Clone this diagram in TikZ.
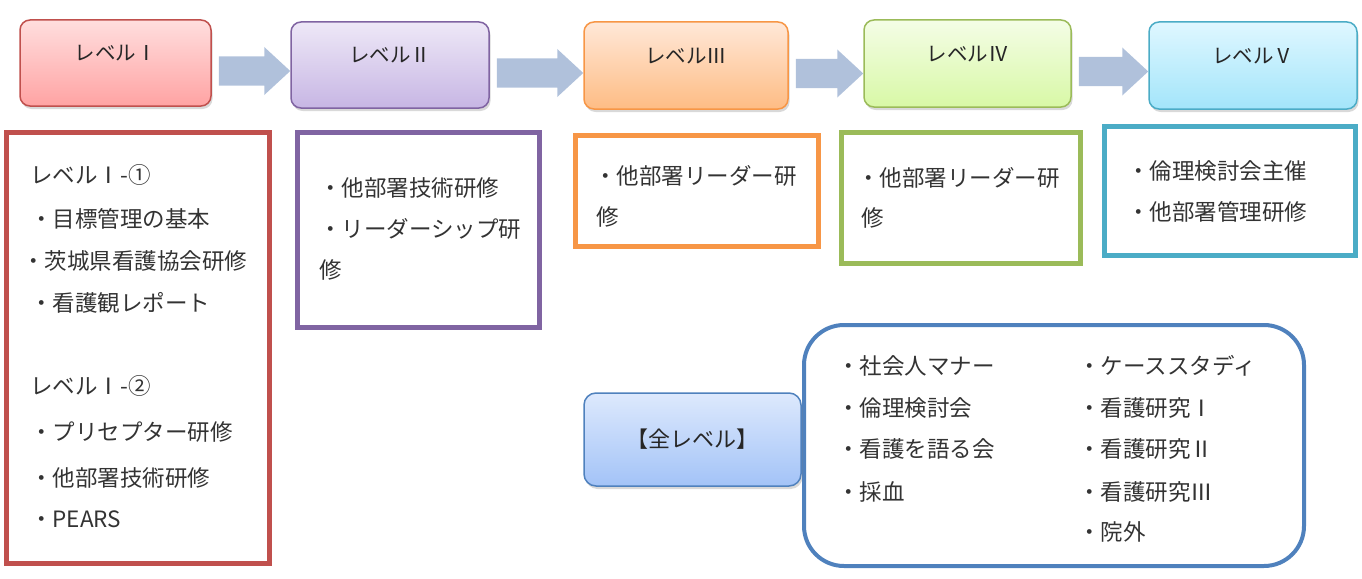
\documentclass[tikz,border=0pt]{standalone}
\usepackage{fontspec}
\setmainfont{Noto Sans CJK JP}
\usetikzlibrary{shadows,calc}

\definecolor{lvred}{HTML}{C0504D}
\definecolor{lvpurple}{HTML}{8064A2}
\definecolor{lvorange}{HTML}{F79646}
\definecolor{lvgreen}{HTML}{9BBB59}
\definecolor{lvteal}{HTML}{4BACC6}
\definecolor{lvblue}{HTML}{4F81BD}
\definecolor{arrowblue}{HTML}{B0C1DB}
% gradient ends of the level boxes
\definecolor{redtop}{HTML}{FFDEDE}    \definecolor{redbot}{HTML}{FFA3A3}
\definecolor{purpletop}{HTML}{EEE8F7} \definecolor{purplebot}{HTML}{C7B6E4}
\definecolor{orangetop}{HTML}{FFE8D8} \definecolor{orangebot}{HTML}{FEBC84}
\definecolor{greentop}{HTML}{F4FDE6}  \definecolor{greenbot}{HTML}{D8F8A6}
\definecolor{tealtop}{HTML}{DFF7FF}   \definecolor{tealbot}{HTML}{A3E5FA}
\definecolor{bluetop}{HTML}{DDE9FD}   \definecolor{bluebot}{HTML}{A3C3F7}

\begin{document}
\begin{tikzpicture}[x=1pt,y=-1pt,
    levelbox/.style={draw,line width=1.5pt,rounded corners=10pt,text=black!85,
        font=\fontsize{20.5}{24}\selectfont,text height=12pt,text depth=16pt,
        drop shadow={shadow xshift=1.5pt,shadow yshift=-3pt,opacity=.3}},
    listbox/.style={draw,line width=5pt},
    item/.style={anchor=west,inner sep=0pt,text=black!80,
        font=\fontsize{22.5}{27}\selectfont}]
    \useasboundingbox (0,0) rectangle (1362,578);

    % level boxes along the top
    \node[levelbox,draw=lvred,top color=redtop,bottom color=redbot,
          minimum width=191pt,minimum height=86pt] (lv1) at (115.5,63) {レベルⅠ};
    \node[levelbox,draw=lvpurple,top color=purpletop,bottom color=purplebot,
          minimum width=198pt,minimum height=86pt] (lv2) at (390,65) {レベルⅡ};
    \node[levelbox,draw=lvorange,top color=orangetop,bottom color=orangebot,
          minimum width=204pt,minimum height=87pt] (lv3) at (686,65.5) {レベルⅢ};
    \node[levelbox,draw=lvgreen,top color=greentop,bottom color=greenbot,
          minimum width=207pt,minimum height=87pt] (lv4) at (967.5,63.5) {レベルⅣ};
    \node[levelbox,draw=lvteal,top color=tealtop,bottom color=tealbot,
          minimum width=208pt,minimum height=87pt] (lv5) at (1253,65.5) {レベルⅤ};

    % block arrows between the levels
    \foreach \a/\b in {lv1/lv2,lv2/lv3,lv3/lv4,lv4/lv5}
        \fill[arrowblue] let \p1 = (\a.east), \p2 = (\b.west) in
            (\x1+7pt,\y1-22.5pt) -- (\x2-26pt,\y1-22.5pt) -- (\x2-26pt,\y1-32pt)
            -- (\x2,\y1-8pt) -- (\x2-26pt,\y1+16pt) -- (\x2-26pt,\y1+6.5pt)
            -- (\x1+7pt,\y1+6.5pt) -- cycle;

    % course lists under each level
    \node[listbox,draw=lvred,minimum width=263pt,minimum height=431pt] (d1) at (138,348) {};
    \foreach \t/\x/\y [count=\i] in {レベルⅠ-①/30/175, ・目標管理の基本/30/219,
            ・茨城県看護協会研修/22/261, ・看護観レポート/30/303, レベルⅠ-②/30/386,
            ・プリセプター研修/30/432, ・他部署技術研修/30/478, ・PEARS/30/519}
        \node[item] (d1t\i) at (\x,\y) {\t};

    \node[listbox,draw=lvpurple,minimum width=242pt,minimum height=195pt] (d2) at (418.5,230) {};
    \foreach \t/\y [count=\i] in {・他部署技術研修/188, ・リーダーシップ研/229, 修/270}
        \node[item] (d2t\i) at (319,\y) {\t};

    \node[listbox,draw=lvorange,minimum width=243pt,minimum height=111pt] (d3) at (697,191) {};
    \node[item] (d3t1) at (594,176) {・他部署リーダー研};
    \node[item] (d3t2) at (596,217) {修};

    \node[listbox,draw=lvgreen,minimum width=239pt,minimum height=131pt] (d4) at (961,198) {};
    \node[item] (d4t1) at (857,178) {・他部署リーダー研};
    \node[item] (d4t2) at (861,218) {修};

    \node[listbox,draw=lvteal,minimum width=251pt,minimum height=129pt] (d5) at (1230,191) {};
    \foreach \t/\y [count=\i] in {・倫理検討会主催/171, ・他部署管理研修/212}
        \node[item] (d5t\i) at (1127,\y) {\t};

    % courses for every level
    \node[draw=lvblue,line width=4pt,rounded corners=40pt,
          minimum width=500pt,minimum height=241pt] (all) at (1054,445.5) {};
    \node[levelbox,draw=lvblue,rounded corners=12pt,top color=bluetop,bottom color=bluebot,
          font=\fontsize{22}{26}\selectfont,text height=,text depth=,
          minimum width=217pt,minimum height=93pt] (lvall) at (692.5,439.5) {【全レベル】};
    \foreach \t/\y [count=\i] in {・社会人マナー/366, ・倫理検討会/408, ・看護を語る会/449, ・採血/492}
        \node[item] (a\i) at (837,\y) {\t};
    \foreach \t/\y [count=\i] in {・ケーススタディ/366, ・看護研究Ⅰ/408, ・看護研究Ⅱ/449,
            ・看護研究Ⅲ/492, ・院外/532}
        \node[item] (b\i) at (1078,\y) {\t};
\end{tikzpicture}
\end{document}
